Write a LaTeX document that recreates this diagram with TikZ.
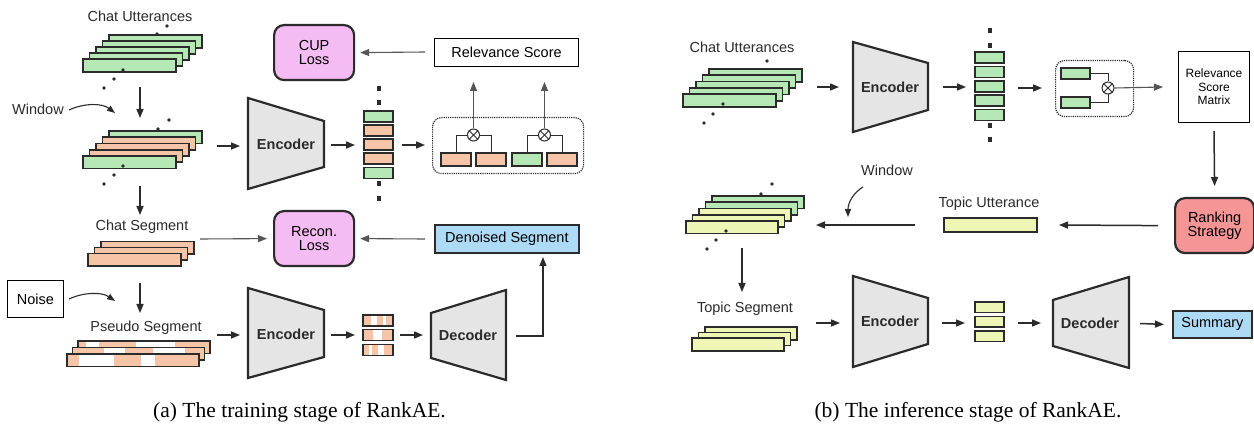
\documentclass[tikz,border=0pt]{standalone}
\usepackage{fontspec}
\setmainfont{Liberation Serif}
\setsansfont{Liberation Sans}
\usetikzlibrary{arrows.meta}
\definecolor{dk}{HTML}{2B2B2B}
\definecolor{gr}{HTML}{555555}
\definecolor{ugreen}{HTML}{B5E8B5}
\definecolor{uorange}{HTML}{F6C4A6}
\definecolor{upink}{HTML}{F5BBF3}
\definecolor{ublue}{HTML}{ADDAF5}
\definecolor{uyellow}{HTML}{EFF5B5}
\definecolor{ured}{HTML}{F59595}
\definecolor{ugray}{HTML}{E5E5E5}
\tikzset{
  ur/.style={draw=dk, line width=1.7pt, inner sep=0pt, outer sep=0pt, anchor=north west},
  lossbox/.style={draw=dk, line width=2.2pt, rounded corners=10pt, fill=upink, inner sep=0pt, anchor=north west, minimum width=80, minimum height=55, align=center},
  outbox/.style={draw=dk, line width=1.8pt, fill=ublue, inner sep=0pt, anchor=north west, align=center},
  thinbox/.style={draw=black, line width=1pt, fill=white, inner sep=0pt, anchor=north west, align=center},
  dotbox/.style={draw=dk, densely dotted, line width=1.2pt, rounded corners=9pt, inner sep=0pt, anchor=north west},
  trap/.style={draw=dk, line width=2.2pt, fill=ugray, line join=miter},
  arr/.style={draw=dk, line width=1.5pt, -{Triangle[length=9pt,width=7pt]}},
  garr/.style={draw=gr, line width=1.1pt, -{Triangle[length=9pt,width=7pt]}},
  wire/.style={draw=dk, line width=0.9pt},
  otimes/.style={circle, draw=dk, line width=1pt, fill=white, minimum size=12pt, inner sep=0pt},
  lbl/.style={text=dk, inner sep=0pt},
  bold/.style={text=dk, inner sep=0pt, font=\sffamily\bfseries\fontsize{14.5}{16}\selectfont},
  captext/.style={text=black, inner sep=0pt, font=\rmfamily\fontsize{21.5}{24}\selectfont}
}
\newcommand\dt[2]{\fill[dk] (#1,#2) circle (1.9);}
\newcommand\vdt[2]{\fill[dk] ({#1-1.7},{#2-2.5}) rectangle ({#1+1.7},{#2+2.5});}
\newcommand\ox[1]{\draw[wire] (#1.north east) -- (#1.south west); \draw[wire] (#1.north west) -- (#1.south east);}
\begin{document}
\begin{tikzpicture}[x=1pt,y=-1pt, font=\sffamily\fontsize{14.5}{16}\selectfont]
\fill[white] (0,0) rectangle (1254,430);
\useasboundingbox (0,0) rectangle (1254,430);

%================ LEFT PANEL =================
\node[lbl] (tcu) at (140,16) {Chat Utterances};
% stack 1
\foreach \i in {4,3,2,1,0} {\node[ur, fill=ugreen, minimum width=93, minimum height=13] (su\i) at ({83+6.5*\i},{59-6*\i}) {};}
\dt{104}{88}\dt{114}{79}\dt{123}{70}\dt{157}{34}\dt{167}{26}
\coordinate (a1s) at (140,87); \coordinate (a1e) at (140,118);
\draw[arr] (a1s) -- (a1e);
% window label
\node[lbl] (twin) at (38,109) {Window};
\coordinate (w1s) at (69,110); \coordinate (w1e) at (115,113);
\draw[draw=dk, line width=1.1pt, -{Triangle[length=8pt,width=6pt]}] (w1s) .. controls (84,103) and (102,103) .. (w1e);
% stack 2
\foreach \i/\c in {4/ugreen,3/uorange,2/uorange,1/uorange,0/ugreen} {\node[ur, fill=\c, minimum width=93, minimum height=12.5] (sw\i) at ({83+6.5*\i},{156-6.25*\i}) {};}
\dt{169}{120}\dt{158}{129}\dt{123}{166}\dt{114}{175}\dt{104}{184}
\coordinate (a2s) at (217,146); \coordinate (a2e) at (240,146);
\draw[arr] (a2s) -- (a2e);
% encoder 1
\draw[trap] (248,98) -- (324,121) -- (324,167) -- (248,189) -- cycle;
\node[bold] (enc1) at (286,144) {Encoder};
\coordinate (a3s) at (331,145); \coordinate (a3e) at (355,145);
\draw[arr] (a3s) -- (a3e);
% vector 1
\foreach \y/\c [count=\k] in {111/ugreen,125/uorange,139/uorange,153/uorange,167.5/ugreen} {\node[ur, fill=\c, minimum width=29, minimum height=11] (v1\k) at (364,\y) {};}
\vdt{379}{89}\vdt{379}{103}\vdt{379}{184}\vdt{379}{199}
\coordinate (a4s) at (402,145); \coordinate (a4e) at (425,145);
\draw[arr] (a4s) -- (a4e);
% pair box
\node[dotbox, minimum width=151, minimum height=56] (pair1) at (432,117) {};
\node[ur, fill=uorange, minimum width=30, minimum height=13] (p1a) at (441,153) {};
\node[ur, fill=uorange, minimum width=30, minimum height=13] (p1b) at (476,153) {};
\node[ur, fill=ugreen, minimum width=30, minimum height=13] (p1c) at (512,153) {};
\node[ur, fill=uorange, minimum width=30, minimum height=13] (p1d) at (547,153) {};
\node[otimes] (ot1) at (473.5,135) {}; \ox{ot1}
\node[otimes] (ot2) at (544.5,135) {}; \ox{ot2}
\draw[wire] (ot1.west) -| (p1a.north); \draw[wire] (ot1.east) -| (p1b.north);
\draw[wire] (ot2.west) -| (p1c.north); \draw[wire] (ot2.east) -| (p1d.north);
% relevance score
\node[thinbox, minimum width=144, minimum height=28] (rel) at (434,38) {Relevance Score};
\coordinate (u1e) at (473.5,82); \coordinate (u2e) at (544.5,82);
\draw[garr] (ot1.north) -- (u1e);
\draw[garr] (ot2.north) -- (u2e);
% CUP loss
\node[lossbox] (cup) at (273,24) {CUP\\[-2pt]Loss};
\coordinate (c1s) at (425,52);
\draw[garr] (c1s) -- ([xshift=5pt]cup.east);
% chat segment
\coordinate (a5s) at (140,186); \coordinate (a5e) at (140,215);
\draw[arr] (a5s) -- (a5e);
\node[lbl] (tcs) at (142,227) {Chat Segment};
\foreach \i in {2,1,0} {\node[ur, fill=uorange, minimum width=93, minimum height=12.5] (sc\i) at ({88+6.5*\i},{253.5-6*\i}) {};}
% recon loss
\node[lossbox] (rec) at (273,210) {Recon.\\[-2pt]Loss};
\coordinate (r1s) at (200,239);
\draw[garr] (r1s) -- ([xshift=-6pt]rec.west);
\node[outbox, minimum width=144, minimum height=28] (den) at (434,224) {Denoised Segment};
\coordinate (r2s) at (425,239);
\draw[garr] (r2s) -- ([xshift=5pt]rec.east);
% noise
\node[thinbox, minimum width=56, minimum height=37] (noise) at (7,280) {Noise};
\coordinate (n1s) at (69,299); \coordinate (n1e) at (115,301);
\draw[draw=dk, line width=1.1pt, -{Triangle[length=8pt,width=6pt]}] (n1s) .. controls (84,292) and (102,292) .. (n1e);
\coordinate (a6s) at (140,283); \coordinate (a6e) at (140,313);
\draw[arr] (a6s) -- (a6e);
\node[lbl] (tps) at (146,328) {Pseudo Segment};
% pseudo stack
\node[ur, fill=uorange, minimum width=132, minimum height=12.5] (ps2) at (78,341) {};
\fill[white] (86,342) rectangle (99,352.7); \fill[white] (136,342) rectangle (175,352.7);
\draw[dk, line width=1.7pt] (78,341) rectangle (210,353.5);
\node[ur, fill=uorange, minimum width=132, minimum height=12.5] (ps1) at (72.5,347.5) {};
\fill[white] (104,348.5) rectangle (125,359.2); \fill[white] (153,348.5) rectangle (185,359.2);
\draw[dk, line width=1.7pt] (72.5,347.5) rectangle (204.5,360);
\node[ur, fill=uorange, minimum width=132, minimum height=12.5] (ps0) at (67,354) {};
\fill[white] (79,355) rectangle (114,365.7); \fill[white] (141,355) rectangle (155,365.7);
\draw[dk, line width=1.7pt] (67,354) rectangle (199,366.5);
\coordinate (a7s) at (217,335); \coordinate (a7e) at (240,335);
\draw[arr] (a7s) -- (a7e);
% encoder 2
\draw[trap] (248,288) -- (324,310) -- (324,357) -- (248,378) -- cycle;
\node[bold] (enc2) at (286,334) {Encoder};
\coordinate (a8s) at (331,335); \coordinate (a8e) at (355,335);
\draw[arr] (a8s) -- (a8e);
% noisy vectors
\node[ur, fill=uorange, minimum width=30, minimum height=11] (nv1) at (363,315) {};
\fill[white] (371,316) rectangle (377,325.2); \fill[white] (383,316) rectangle (386,325.2);
\draw[dk, line width=1.7pt] (363,315) rectangle (393,326);
\node[ur, fill=uorange, minimum width=30, minimum height=11] (nv2) at (363,329.5) {};
\fill[white] (373,330.5) rectangle (382,339.7);
\draw[dk, line width=1.7pt] (363,329.5) rectangle (393,340.5);
\node[ur, fill=uorange, minimum width=30, minimum height=11] (nv3) at (363,344.5) {};
\fill[white] (369,345.5) rectangle (372,354.7); \fill[white] (378,345.5) rectangle (384,354.7);
\draw[dk, line width=1.7pt] (363,344.5) rectangle (393,355.5);
\coordinate (a9s) at (400,335); \coordinate (a9e) at (423,335);
\draw[arr] (a9s) -- (a9e);
% decoder 1
\draw[trap] (431,313) -- (506,290) -- (506,380) -- (431,358) -- cycle;
\node[bold] (dec1) at (468,335) {Decoder};
\coordinate (d1s) at (516,336); \coordinate (d1e) at (543,257);
\draw[arr] (d1s) -| (d1e);
\node[captext] (capa) at (299.5,412) {(a) The training stage of RankAE.};

%================ RIGHT PANEL =================
\node[lbl] (rcu) at (742,47) {Chat Utterances};
\foreach \i in {4,3,2,1,0} {\node[ur, fill=ugreen, minimum width=93, minimum height=13] (ru\i) at ({683+6.5*\i},{94-6.25*\i}) {};}
\dt{767}{61}\dt{723}{104}\dt{713}{114}\dt{704}{123}
\coordinate (b1s) at (817,87); \coordinate (b1e) at (839,87);
\draw[arr] (b1s) -- (b1e);
\draw[trap] (853,42) -- (928,63) -- (928,110) -- (853,132) -- cycle;
\node[bold] (enc3) at (890,87) {Encoder};
\coordinate (b2s) at (943,87); \coordinate (b2e) at (966,87);
\draw[arr] (b2s) -- (b2e);
\foreach \y [count=\k] in {52,66.5,81,95,109.5} {\node[ur, fill=ugreen, minimum width=29, minimum height=11] (rv\k) at (975,\y) {};}
\vdt{990}{31}\vdt{990}{46}\vdt{990}{126}\vdt{990}{140}
\coordinate (b3s) at (1018,88); \coordinate (b3e) at (1042,88);
\draw[arr] (b3s) -- (b3e);
\node[dotbox, minimum width=78, minimum height=56] (pair2) at (1055,60) {};
\node[ur, fill=ugreen, minimum width=29, minimum height=11] (q1) at (1061,68) {};
\node[ur, fill=ugreen, minimum width=29, minimum height=11] (q2) at (1061,97) {};
\node[otimes] (ot3) at (1108,88) {}; \ox{ot3}
\draw[wire] (q1.east) -| (ot3.north);
\draw[wire] (q2.east) -| (ot3.south);
\node[thinbox, minimum width=71, minimum height=71, font=\sffamily\fontsize{12}{13.5}\selectfont] (rsm) at (1178,51) {Relevance\\Score\\Matrix};
\draw[garr] (ot3.east) -- ([xshift=-15pt]rsm.west);
\node[lossbox, fill=ured, minimum width=79] (rank) at (1174,197) {Ranking\\[-2pt]Strategy};
\draw[arr] ([yshift=-8pt]rsm.south) -- ([yshift=11pt]rank.north);
\node[ur, fill=uyellow, minimum width=93, minimum height=14] (tu) at (944,218) {};
\node[lbl] (ttu) at (989,204) {Topic Utterance};
\draw[arr] ([xshift=-16pt]rank.west) -- ([xshift=22pt]tu.east);
\coordinate (b5s) at (915,225); \coordinate (b5e) at (816,225);
\draw[arr] (b5s) -- (b5e);
\node[lbl] (rwin) at (887,170) {Window};
\coordinate (w2s) at (863,187); \coordinate (w2e) at (848,217);
\draw[draw=dk, line width=1.1pt, -{Triangle[length=8pt,width=6pt]}] (w2s) .. controls (853,193) and (848,203) .. (w2e);
\foreach \i/\c in {4/ugreen,3/ugreen,2/uyellow,1/uyellow,0/uyellow} {\node[ur, fill=\c, minimum width=92, minimum height=12.5] (rw\i) at ({686+6.5*\i},{221-6.25*\i}) {};}
\dt{772}{184}\dt{761}{194}\dt{726}{231}\dt{716}{240}\dt{707}{249}
\coordinate (b6s) at (742,248); \coordinate (b6e) at (742,292);
\draw[arr] (b6s) -- (b6e);
\node[lbl] (tts) at (745,309) {Topic Segment};
\foreach \i in {2,1,0} {\node[ur, fill=uyellow, minimum width=92, minimum height=13] (rt\i) at ({692+6.5*\i},{338-5.5*\i}) {};}
\coordinate (b7s) at (816,323); \coordinate (b7e) at (840,323);
\draw[arr] (b7s) -- (b7e);
\draw[trap] (853,276) -- (928,298) -- (928,344) -- (853,367) -- cycle;
\node[bold] (enc4) at (890,321) {Encoder};
\coordinate (b8s) at (942,323); \coordinate (b8e) at (965,323);
\draw[arr] (b8s) -- (b8e);
\foreach \y [count=\k] in {302,316.5,331} {\node[ur, fill=uyellow, minimum width=29, minimum height=10.5] (ry\k) at (975,\y) {};}
\coordinate (b9s) at (1018,323); \coordinate (b9e) at (1041,323);
\draw[arr] (b9s) -- (b9e);
\draw[trap] (1053,300) -- (1129,277) -- (1129,368) -- (1053,346) -- cycle;
\node[bold] (dec2) at (1090,323) {Decoder};
\node[outbox, minimum width=79, minimum height=27] (sum) at (1172,310) {Summary};
\coordinate (b10s) at (1140,323.5);
\draw[arr] (b10s) -- ([xshift=-8pt]sum.west);
\node[captext] (capb) at (968,412) {(b) The inference stage of RankAE.};
\end{tikzpicture}
\end{document}
